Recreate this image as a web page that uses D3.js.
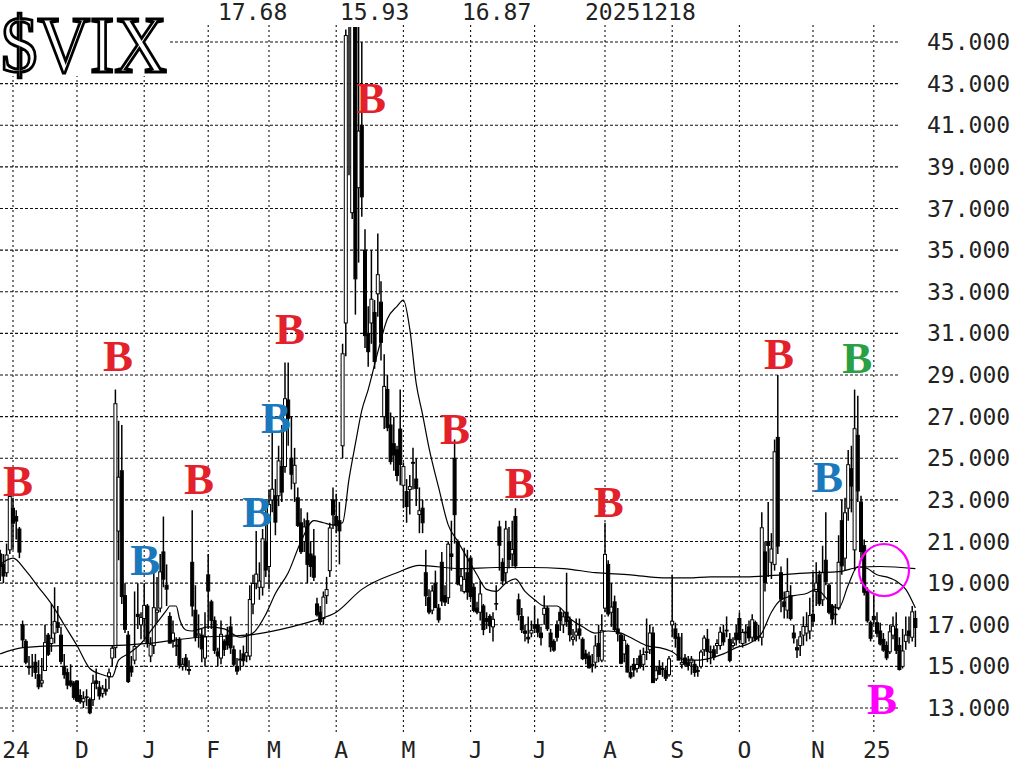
<!DOCTYPE html>
<html><head><meta charset="utf-8">
<script src="https://cdn.jsdelivr.net/npm/d3@7"></script>
<style>body{margin:0;background:#fff}svg{display:block}</style>
</head><body><svg id="c" width="1021" height="764"></svg>
<script>
// ---------- data ----------
const dates = [
"2024-10-28","2024-10-29","2024-10-30","2024-10-31",
"2024-11-01","2024-11-04","2024-11-05","2024-11-06","2024-11-07","2024-11-08","2024-11-11","2024-11-12","2024-11-13","2024-11-14","2024-11-15","2024-11-18","2024-11-19","2024-11-20","2024-11-21","2024-11-22","2024-11-25","2024-11-26","2024-11-27","2024-11-29",
"2024-12-02","2024-12-03","2024-12-04","2024-12-05","2024-12-06","2024-12-09","2024-12-10","2024-12-11","2024-12-12","2024-12-13","2024-12-16","2024-12-17","2024-12-18","2024-12-19","2024-12-20","2024-12-23","2024-12-24","2024-12-26","2024-12-27","2024-12-30","2024-12-31",
"2025-01-02","2025-01-03","2025-01-06","2025-01-07","2025-01-08","2025-01-10","2025-01-13","2025-01-14","2025-01-15","2025-01-16","2025-01-17","2025-01-21","2025-01-22","2025-01-23","2025-01-24","2025-01-27","2025-01-28","2025-01-29","2025-01-30","2025-01-31",
"2025-02-03","2025-02-04","2025-02-05","2025-02-06","2025-02-07","2025-02-10","2025-02-11","2025-02-12","2025-02-13","2025-02-14","2025-02-18","2025-02-19","2025-02-20","2025-02-21","2025-02-24","2025-02-25","2025-02-26","2025-02-27","2025-02-28",
"2025-03-03","2025-03-04","2025-03-05","2025-03-06","2025-03-07","2025-03-10","2025-03-11","2025-03-12","2025-03-13","2025-03-14","2025-03-17","2025-03-18","2025-03-19","2025-03-20","2025-03-21","2025-03-24","2025-03-25","2025-03-26","2025-03-27","2025-03-28","2025-03-31",
"2025-04-01","2025-04-02","2025-04-03","2025-04-04","2025-04-07","2025-04-08","2025-04-09","2025-04-10","2025-04-11","2025-04-14","2025-04-15","2025-04-16","2025-04-17","2025-04-21","2025-04-22","2025-04-23","2025-04-24","2025-04-25","2025-04-28","2025-04-29","2025-04-30",
"2025-05-01","2025-05-02","2025-05-05","2025-05-06","2025-05-07","2025-05-08","2025-05-09","2025-05-12","2025-05-13","2025-05-14","2025-05-15","2025-05-16","2025-05-19","2025-05-20","2025-05-21","2025-05-22","2025-05-23","2025-05-27","2025-05-28","2025-05-29","2025-05-30",
"2025-06-02","2025-06-03","2025-06-04","2025-06-05","2025-06-06","2025-06-09","2025-06-10","2025-06-11","2025-06-12","2025-06-13","2025-06-16","2025-06-17","2025-06-18","2025-06-20","2025-06-23","2025-06-24","2025-06-25","2025-06-26","2025-06-27","2025-06-30",
"2025-07-01","2025-07-02","2025-07-03","2025-07-07","2025-07-08","2025-07-09","2025-07-10","2025-07-11","2025-07-14","2025-07-15","2025-07-16","2025-07-17","2025-07-18","2025-07-21","2025-07-22","2025-07-23","2025-07-24","2025-07-25","2025-07-28","2025-07-29","2025-07-30","2025-07-31",
"2025-08-01","2025-08-04","2025-08-05","2025-08-06","2025-08-07","2025-08-08","2025-08-11","2025-08-12","2025-08-13","2025-08-14","2025-08-15","2025-08-18","2025-08-19","2025-08-20","2025-08-21","2025-08-22","2025-08-25","2025-08-26","2025-08-27","2025-08-28","2025-08-29",
"2025-09-02","2025-09-03","2025-09-04","2025-09-05","2025-09-08","2025-09-09","2025-09-10","2025-09-11","2025-09-12","2025-09-15","2025-09-16","2025-09-17","2025-09-18","2025-09-19","2025-09-22","2025-09-23","2025-09-24","2025-09-25","2025-09-26","2025-09-29","2025-09-30",
"2025-10-01","2025-10-02","2025-10-03","2025-10-06","2025-10-07","2025-10-08","2025-10-09","2025-10-10","2025-10-13","2025-10-14","2025-10-15","2025-10-16","2025-10-17","2025-10-20","2025-10-21","2025-10-22","2025-10-23","2025-10-24","2025-10-27","2025-10-28","2025-10-29","2025-10-30","2025-10-31",
"2025-11-03","2025-11-04","2025-11-05","2025-11-06","2025-11-07","2025-11-10","2025-11-11","2025-11-12","2025-11-13","2025-11-14","2025-11-17","2025-11-18","2025-11-19","2025-11-20","2025-11-21","2025-11-24","2025-11-25","2025-11-26","2025-11-28",
"2025-12-01","2025-12-02","2025-12-03","2025-12-04","2025-12-05","2025-12-08","2025-12-09","2025-12-10","2025-12-11","2025-12-12","2025-12-15","2025-12-16","2025-12-17","2025-12-18"
];
const open = [
20.4,19.9,19.5,20.6,
22.6,22.2,21.6,17.0,16.2,15.0,15.0,15.2,14.6,14.2,14.8,16.5,16.1,16.6,17.1,16.5,15.0,14.7,14.3,14.2,
14.3,13.6,13.3,13.5,13.4,13.4,14.3,14.0,13.7,13.9,14.5,15.4,15.9,21.5,24.4,18.4,16.5,15.0,15.3,17.5,17.0,
17.3,17.9,15.5,16.0,17.6,17.8,20.5,18.9,17.4,16.2,16.0,16.3,15.0,15.4,14.8,20.0,17.7,16.5,16.5,15.4,
19.4,18.1,17.2,15.7,15.4,16.2,16.5,16.9,15.8,15.0,15.3,15.6,15.5,15.5,18.0,19.0,18.8,18.8,21.0,
19.8,23.0,23.2,23.2,24.6,24.6,27.8,25.0,23.8,23.1,21.9,21.0,22.0,20.4,20.3,18.0,17.6,17.3,18.4,19.6,23.0,
22.2,22.0,25.6,31.5,60.1,36.8,57.5,38.0,41.0,35.0,31.0,31.5,32.0,32.9,32.5,27.0,28.3,26.6,25.7,25.4,26.4,
23.7,23.4,23.5,24.8,24.0,22.3,22.6,19.5,18.3,17.7,19.0,17.8,20.0,18.4,18.3,20.4,25.0,21.0,18.9,18.6,19.5,
20.2,18.8,17.8,17.6,17.9,17.3,17.4,16.9,18.0,21.7,20.0,19.5,21.0,20.4,22.2,18.2,17.4,16.7,16.4,16.6,
17.0,17.0,16.6,17.5,17.8,16.6,16.2,17.0,17.6,17.0,17.6,17.2,16.3,16.5,16.8,16.3,15.6,15.5,15.1,15.2,16.1,15.3,
17.8,19.9,17.6,18.1,16.8,16.5,15.6,16.0,14.7,15.1,14.9,15.5,15.1,15.7,15.8,16.6,14.4,15.0,14.9,14.8,14.6,
17.0,16.8,16.4,15.1,15.4,15.2,15.2,15.1,14.8,15.0,15.8,16.3,15.7,15.8,16.0,16.0,16.6,16.7,16.3,16.0,16.6,
17.3,16.1,16.6,16.9,16.4,17.1,16.4,16.4,20.5,21.0,20.0,19.9,26.0,19.5,18.1,17.7,18.4,16.6,15.9,16.0,16.5,16.6,16.7,
17.5,18.6,19.4,18.2,20.1,18.9,17.9,17.5,17.8,22.0,20.2,22.6,24.5,20.6,26.1,22.9,20.8,18.6,17.1,
17.4,17.1,16.7,16.3,16.0,15.7,16.5,16.8,16.0,15.0,16.2,16.7,16.4,17.3
];
const high = [
20.6,20.4,20.9,23.5,
23.1,22.5,21.7,17.2,16.3,15.5,15.6,15.6,15.3,15.4,17.0,16.6,18.0,18.8,17.9,16.9,15.6,14.9,15.1,14.3,
14.3,13.9,13.8,13.9,13.5,14.6,14.9,14.3,14.1,14.4,14.9,16.0,28.3,26.8,26.6,19.0,16.7,15.5,18.6,19.0,17.6,
19.0,18.0,16.4,19.9,19.3,20.4,22.2,19.9,17.6,17.2,16.4,16.4,15.4,15.6,15.3,22.5,18.9,17.5,16.8,17.6,
20.4,18.2,17.4,15.9,17.2,16.3,16.9,17.4,16.0,15.4,15.8,16.0,16.6,18.9,19.4,21.5,20.0,21.6,22.5,
23.5,26.3,24.0,25.6,26.6,29.6,29.6,27.0,25.5,23.6,22.6,22.1,22.4,21.0,21.6,18.3,17.9,18.6,19.3,21.9,23.6,
23.3,22.9,30.5,45.6,60.1,57.5,57.9,54.9,45.0,36.0,32.3,35.0,32.6,35.8,33.5,30.0,29.0,27.2,27.0,25.6,28.3,
24.8,24.0,24.2,25.5,25.0,23.6,23.0,20.6,18.7,18.9,19.6,18.0,20.5,18.9,21.0,22.0,25.9,21.1,19.7,20.7,20.6,
20.3,19.0,18.1,19.1,18.0,17.6,17.5,17.6,18.9,22.0,20.2,22.0,21.7,22.0,22.6,18.5,17.8,17.0,17.4,17.2,
17.9,17.3,16.9,18.4,17.9,16.8,16.3,17.2,17.8,17.6,19.5,17.4,16.8,17.3,17.3,16.4,15.8,15.7,15.6,16.5,17.0,17.5,
21.9,20.1,19.0,18.4,17.8,16.6,16.5,16.1,15.0,15.4,15.4,15.8,15.9,17.3,17.0,16.9,15.0,15.3,15.2,15.0,15.5,
19.4,17.1,16.6,16.6,15.6,15.5,15.5,15.3,15.0,15.8,16.5,16.8,16.0,16.0,16.3,16.9,17.0,17.4,16.6,16.4,17.0,
17.6,16.8,17.0,17.2,17.5,17.2,17.0,22.4,21.0,22.9,21.4,25.9,29.0,19.8,18.6,20.2,18.9,17.0,16.3,16.7,17.4,17.6,18.3,
19.5,20.0,19.6,20.8,22.4,19.0,18.0,18.0,21.3,23.0,23.1,25.4,25.6,28.3,28.0,23.2,21.1,18.8,17.2,
18.4,17.6,17.1,16.6,16.2,17.0,17.4,17.6,16.4,16.8,17.4,17.4,17.9,17.68
];
const low = [
19.1,19.0,19.3,20.4,
20.6,21.1,20.2,15.9,15.1,14.6,14.5,14.4,13.9,14.0,14.8,15.5,15.7,16.1,16.6,15.1,14.4,13.9,14.0,13.4,
13.3,13.2,13.0,13.1,12.7,13.1,13.9,13.4,13.5,13.6,13.9,15.0,15.4,20.1,18.0,16.6,14.2,14.5,15.1,16.8,16.3,
16.3,15.9,15.2,15.6,17.1,17.6,18.8,17.9,16.1,15.9,15.5,14.9,14.8,14.8,14.6,17.4,16.2,15.9,15.2,15.0,
16.8,16.8,15.6,15.0,15.1,15.5,15.8,15.6,15.0,14.6,14.8,15.0,15.2,15.3,17.5,18.7,18.2,18.4,19.3,
18.7,22.4,21.3,22.7,22.9,24.3,25.6,23.5,22.9,21.7,20.4,20.5,19.0,19.3,19.1,17.4,17.0,17.0,18.0,19.3,21.6,
21.4,19.9,25.0,29.9,38.6,36.5,31.9,34.4,36.6,30.3,29.4,30.5,29.3,31.8,29.7,26.4,26.3,24.7,24.4,23.9,23.7,
22.6,21.9,22.3,23.5,22.7,21.4,21.4,17.9,17.5,17.5,17.8,17.1,17.9,17.9,18.0,19.6,20.9,18.9,18.6,18.5,18.2,
18.2,17.6,17.5,17.2,16.5,16.8,16.6,16.2,17.7,19.6,18.9,19.0,19.7,19.8,19.7,17.2,16.6,16.2,16.1,16.4,
16.6,16.4,16.0,17.0,16.7,15.7,15.7,16.2,16.7,16.6,16.9,16.2,16.0,16.2,16.3,15.3,15.1,14.9,14.7,14.9,15.2,15.2,
17.6,17.4,16.9,16.7,16.2,15.1,15.2,14.7,14.4,14.5,14.7,14.9,14.8,15.3,15.6,14.2,14.3,14.6,14.5,14.3,14.5,
16.4,15.9,15.3,14.9,15.0,14.8,14.6,14.5,14.5,14.9,15.5,15.2,15.1,15.3,15.6,15.8,16.0,16.4,15.2,15.9,16.0,
16.1,15.9,16.1,16.2,16.2,16.2,16.2,16.0,18.6,19.3,19.2,19.6,20.4,17.6,17.3,17.3,17.2,16.1,15.4,15.5,16.0,16.2,16.3,
16.9,17.9,17.9,17.9,18.9,17.5,17.0,17.0,17.7,19.4,19.6,22.0,22.4,19.6,22.9,20.2,18.4,17.1,16.2,
17.0,16.4,16.0,15.7,15.3,15.6,16.3,15.6,14.8,14.9,15.8,16.1,16.2,15.93
];
const close = [
19.80,19.34,20.35,23.16,
21.88,21.98,20.49,16.27,15.20,14.94,14.97,14.71,14.02,14.31,16.14,15.58,16.35,17.16,16.87,15.24,14.60,14.10,14.10,13.51,
13.34,13.30,13.45,13.54,12.77,14.19,14.18,13.58,13.92,13.81,14.69,15.87,27.62,24.09,18.36,16.78,14.27,14.73,15.95,17.40,17.35,
17.93,16.13,16.04,17.82,17.70,19.54,19.19,18.71,16.12,16.60,15.97,15.06,15.10,15.02,14.85,17.90,16.41,16.56,15.84,16.43,
18.62,17.21,15.77,15.50,16.54,15.81,16.02,15.89,15.10,14.77,15.35,15.27,15.66,18.21,18.98,19.43,19.10,21.13,19.63,
22.78,23.51,21.93,24.87,23.37,27.86,26.92,24.23,24.66,21.77,20.51,21.70,19.90,19.80,19.28,17.48,17.15,18.33,18.69,21.65,22.28,
21.77,21.51,30.02,45.31,46.98,52.33,33.62,40.72,37.56,30.89,30.12,32.64,29.65,33.82,30.57,28.45,26.47,24.84,25.15,24.17,24.70,
24.60,22.68,23.64,24.76,23.55,22.48,21.90,18.39,17.61,18.62,17.83,17.24,18.14,18.09,20.87,20.28,22.29,18.96,19.31,19.18,18.57,
18.36,17.69,17.61,18.48,16.77,17.16,16.95,17.26,18.02,20.82,19.11,21.60,20.14,20.62,19.83,17.48,16.76,16.59,16.32,16.73,
16.83,16.64,16.38,17.79,16.81,15.94,15.78,16.40,17.20,17.38,17.16,16.52,16.41,16.65,16.50,15.37,15.39,14.93,15.03,15.98,15.48,16.72,
20.38,17.52,17.85,16.77,16.57,15.15,16.25,14.73,14.49,14.83,15.09,14.99,15.57,15.69,16.60,14.22,14.79,14.62,14.85,14.43,15.36,
17.17,16.35,15.30,15.18,15.11,15.04,15.35,14.71,14.76,15.69,16.36,15.72,15.70,15.45,16.10,16.64,16.18,16.74,15.29,16.12,16.28,
16.29,16.63,16.65,16.37,17.24,16.30,16.43,21.66,19.03,20.81,20.64,25.31,20.78,18.23,17.87,18.60,17.30,16.37,15.79,16.42,16.92,16.91,17.44,
17.17,19.00,18.01,19.50,19.08,17.60,17.28,17.51,20.00,19.83,22.38,24.69,23.66,26.42,23.43,20.52,18.56,17.19,16.35,
17.24,16.59,16.08,15.78,15.41,16.66,16.93,15.77,14.85,15.74,16.50,16.48,17.62,16.87
];
// moving averages (bar index, value)
const ma20Idx = [0,4,8,12,16,20,24,28,32,35,37,40,44,48,52,53,55,56,58,60,65,70,75,79,83,86,90,94,98,101,104,107,109,111,113,115,118,121,124,126,128,130,132,134,137,140,143,146,149,152,155,158,161,164,167,170,174,178,182,186,190,194,198,202,206,210,214,218,222,226,230,234,238,241,244,248,252,255,258,260,262,265,268,271,274,277,280,283,286];
const ma20Val = [19.9,20.2,19.6,18.8,18.0,17.0,16.0,14.9,14.6,14.5,15.3,15.6,16.1,16.9,17.7,17.9,17.9,17.3,16.75,16.7,16.9,16.8,16.4,16.6,17.5,18.5,19.5,21.0,22.0,21.9,21.8,21.9,24.0,25.7,27.3,28.3,30.1,31.7,32.3,32.6,31.2,28.6,27.1,25.5,23.6,21.8,21.0,20.2,19.4,18.7,18.6,19.0,19.2,18.6,18.2,17.9,17.9,17.3,16.9,16.6,16.7,16.6,16.3,16.0,15.9,15.7,15.3,15.3,15.4,15.6,15.9,16.1,16.6,17.6,18.2,18.4,18.5,18.7,18.3,17.9,17.8,18.9,19.8,19.7,19.4,19.3,19.1,18.7,17.8];
const ma200Idx = [0,7,20,35,46,62,77,91,98,105,113,124,131,144,155,166,176,186,197,207,215,222,233,244,254,262,268,275,286];
const ma200Val = [15.6,15.9,16.0,16.0,16.1,16.4,16.5,16.9,17.2,17.6,18.7,19.5,19.85,19.7,19.75,19.75,19.7,19.5,19.4,19.25,19.25,19.3,19.3,19.4,19.5,19.55,19.75,19.8,19.7];
// axis
const yTicks = [13,15,17,19,21,23,25,27,29,31,33,35,37,39,41,43,45];
const xTickIdx = [4,24,45,65,84,105,126,147,167,189,210,231,254,273];
const xTickLab = ["24","D","J","F","M","A","M","J","J","A","S","O","N","25"];
// "B" signal annotations (bar index, value level, colour)
const sigIdx = [5.6,36.8,45.3,62.1,80.3,86.2,90.6,115.9,142.1,162.4,190.2,243.4,267.8,258.7,275.6];
const sigVal = [23.2,29.2,19.4,23.3,21.7,26.2,30.5,41.6,25.7,23.1,22.2,29.3,29.1,23.4,12.7];
const sigCol = ["red","red","blue","red","blue","blue","red","red","red","red","red","red","green","blue","magenta"];
const circleIdx = 276.2, circleVal = 19.63;

// ---------- drawing ----------
const palette = {red:"#e3212b", blue:"#1a78bd", green:"#2aa045", magenta:"#ff00ff"};
const svg = d3.select("#c");
const N = close.length;
const x = d3.scaleLinear().domain([0, N-1]).range([0.2, 0.2 + (N-1)*3.2]);
const y = d3.scaleLinear().domain([13, 45]).range([708, 42]);
const gridRight = 898, plotTop = 25, plotBottom = 735;
const monoFont = "'DejaVu Sans Mono', monospace";

// gridlines
const grid = svg.append("g");
grid.selectAll("line.h").data(yTicks).join("line")
  .attr("x1", 0).attr("x2", gridRight)
  .attr("y1", d => y(d)).attr("y2", d => y(d))
  .attr("stroke", "#111").attr("stroke-width", 1.1).attr("stroke-dasharray", "3,2");
grid.selectAll("line.v").data(xTickIdx).join("line")
  .attr("x1", d => x(d)).attr("x2", d => x(d))
  .attr("y1", plotTop).attr("y2", plotBottom)
  .attr("stroke", "#111").attr("stroke-width", 1.1).attr("stroke-dasharray", "2,3");

// y labels
svg.append("g").selectAll("text").data(yTicks).join("text")
  .attr("x", 927).attr("y", d => y(d) + 8)
  .attr("font-family", monoFont).attr("font-size", 23).attr("fill", "#222")
  .text(d => d3.format(".3f")(d));

// x labels
svg.append("g").selectAll("text").data(xTickIdx).join("text")
  .attr("x", (d, i) => x(d) + (xTickLab[i].length > 1 ? 3 : 5))
  .attr("y", 758).attr("text-anchor", "middle")
  .attr("font-family", monoFont).attr("font-size", 23).attr("fill", "#222")
  .text((d, i) => xTickLab[i]);

// clip for price data
svg.append("clipPath").attr("id", "pc").append("rect")
  .attr("x", 0).attr("y", 27).attr("width", 925).attr("height", 700);
const plot = svg.append("g").attr("clip-path", "url(#pc)");

const idx = d3.range(N);
const bw = 3.0;
// wicks (upper and lower parts)
plot.selectAll("line.wu").data(idx).join("line")
  .attr("x1", i => x(i)).attr("x2", i => x(i))
  .attr("y1", i => y(high[i])).attr("y2", i => y(Math.max(open[i], close[i])))
  .attr("stroke", "#000").attr("stroke-width", 1.5);
plot.selectAll("line.wl").data(idx).join("line")
  .attr("x1", i => x(i)).attr("x2", i => x(i))
  .attr("y1", i => y(Math.min(open[i], close[i]))).attr("y2", i => y(low[i]))
  .attr("stroke", "#000").attr("stroke-width", 1.5);
plot.selectAll("rect.body").data(idx).join("rect")
  .attr("x", i => x(i) - bw/2)
  .attr("y", i => y(Math.max(open[i], close[i])))
  .attr("width", bw)
  .attr("height", i => Math.max(0.6, Math.abs(y(open[i]) - y(close[i]))))
  .attr("fill", i => close[i] < open[i] ? "#000" : "#fff")
  .attr("stroke", "#000").attr("stroke-width", 1.0);

// moving averages
const line = d3.line().x(d => x(d[0])).y(d => y(d[1])).curve(d3.curveMonotoneX);
plot.append("path").datum(ma200Idx.map((d, i) => [d, ma200Val[i]]))
  .attr("d", line).attr("fill", "none").attr("stroke", "#000").attr("stroke-width", 1.2);
plot.append("path").datum(ma20Idx.map((d, i) => [d, ma20Val[i]]))
  .attr("d", line).attr("fill", "none").attr("stroke", "#000").attr("stroke-width", 1.2);

// title block
svg.append("rect").attr("x", 0).attr("y", 0).attr("width", 170).attr("height", 76).attr("fill", "#fff");
svg.append("text").attr("x", 1).attr("y", 72)
  .attr("font-family", "'Liberation Serif', 'Times New Roman', serif").attr("font-size", 80)
  .attr("textLength", 166).attr("lengthAdjust", "spacingAndGlyphs")
  .attr("fill", "#fff").attr("stroke", "#000").attr("stroke-width", 3)
  .attr("paint-order", "fill")
  .text("$VIX");

// header values: high, low, close, date of last bar
const last = N - 1;
const header = [d3.format(".2f")(high[last]), d3.format(".2f")(low[last]), d3.format(".2f")(close[last]), dates[last].replace(/-/g, "")];
const headerX = [218, 340, 462, 585];
svg.append("g").selectAll("text").data(header).join("text")
  .attr("x", (d, i) => headerX[i]).attr("y", 20)
  .attr("font-family", monoFont).attr("font-size", 23).attr("fill", "#222")
  .text(d => d);

// B signals
svg.append("g").selectAll("text").data(sigIdx).join("text")
  .attr("x", d => x(d)).attr("y", (d, i) => y(sigVal[i]))
  .attr("text-anchor", "middle")
  .attr("font-family", "'Liberation Serif', 'Times New Roman', serif")
  .attr("font-weight", "bold").attr("font-size", 45)
  .attr("fill", (d, i) => palette[sigCol[i]])
  .text("B");

// magenta circle
svg.append("ellipse").attr("cx", x(circleIdx)).attr("cy", y(circleVal))
  .attr("rx", 25).attr("ry", 26)
  .attr("fill", "none").attr("stroke", palette.magenta).attr("stroke-width", 2.2);
</script>
</body></html>
